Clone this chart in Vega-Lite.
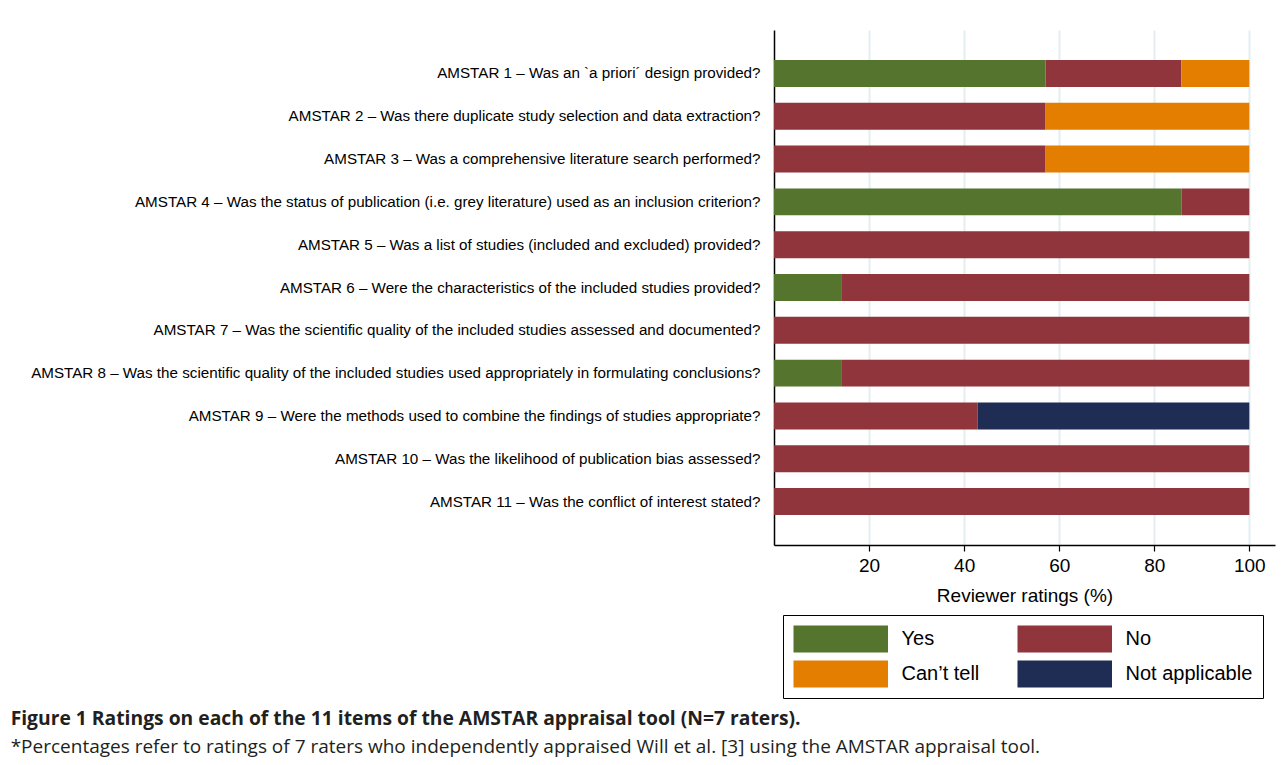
{
  "$schema": "https://vega.github.io/schema/vega-lite/v6.json",
  "width": 501,
  "height": 515,
  "padding": {"left": 10, "top": 30, "right": 8, "bottom": 5},
  "background": "white",
  "config": {
    "view": {"stroke": null},
    "font": "Liberation Sans",
    "axis": {"labelFont": "Liberation Sans", "titleFont": "Liberation Sans"},
    "legend": {"labelFont": "Liberation Sans"}
  },
  "title": {
    "text": "Figure 1 Ratings on each of the 11 items of the AMSTAR appraisal tool (N=7 raters).",
    "subtitle": "*Percentages refer to ratings of 7 raters who independently appraised Will et al. [3] using the AMSTAR appraisal tool.",
    "orient": "bottom",
    "anchor": "start",
    "frame": "bounds",
    "font": "Open Sans",
    "fontSize": 19.3,
    "fontWeight": "bold",
    "color": "#231f20",
    "subtitleFont": "Open Sans",
    "subtitleFontSize": 19,
    "subtitleColor": "#231f20",
    "subtitlePadding": 9,
    "offset": 11,
    "dx": -20
  },
  "data": {
    "values": [
      {"item": "AMSTAR 1 – Was an `a priori´ design provided?", "idx": 1, "rating": "Yes", "ord": 1, "pct": 57.14},
      {"item": "AMSTAR 1 – Was an `a priori´ design provided?", "idx": 1, "rating": "No", "ord": 2, "pct": 28.57},
      {"item": "AMSTAR 1 – Was an `a priori´ design provided?", "idx": 1, "rating": "Can’t tell", "ord": 3, "pct": 14.29},
      {"item": "AMSTAR 2 – Was there duplicate study selection and data extraction?", "idx": 2, "rating": "No", "ord": 2, "pct": 57.14},
      {"item": "AMSTAR 2 – Was there duplicate study selection and data extraction?", "idx": 2, "rating": "Can’t tell", "ord": 3, "pct": 42.86},
      {"item": "AMSTAR 3 – Was a comprehensive literature search performed?", "idx": 3, "rating": "No", "ord": 2, "pct": 57.14},
      {"item": "AMSTAR 3 – Was a comprehensive literature search performed?", "idx": 3, "rating": "Can’t tell", "ord": 3, "pct": 42.86},
      {"item": "AMSTAR 4 – Was the status of publication (i.e. grey literature) used as an inclusion criterion?", "idx": 4, "rating": "Yes", "ord": 1, "pct": 85.71},
      {"item": "AMSTAR 4 – Was the status of publication (i.e. grey literature) used as an inclusion criterion?", "idx": 4, "rating": "No", "ord": 2, "pct": 14.29},
      {"item": "AMSTAR 5 – Was a list of studies (included and excluded) provided?", "idx": 5, "rating": "No", "ord": 2, "pct": 100},
      {"item": "AMSTAR 6 – Were the characteristics of the included studies provided?", "idx": 6, "rating": "Yes", "ord": 1, "pct": 14.29},
      {"item": "AMSTAR 6 – Were the characteristics of the included studies provided?", "idx": 6, "rating": "No", "ord": 2, "pct": 85.71},
      {"item": "AMSTAR 7 – Was the scientific quality of the included studies assessed and documented?", "idx": 7, "rating": "No", "ord": 2, "pct": 100},
      {"item": "AMSTAR 8 – Was the scientific quality of the included studies used appropriately in formulating conclusions?", "idx": 8, "rating": "Yes", "ord": 1, "pct": 14.29},
      {"item": "AMSTAR 8 – Was the scientific quality of the included studies used appropriately in formulating conclusions?", "idx": 8, "rating": "No", "ord": 2, "pct": 85.71},
      {"item": "AMSTAR 9 – Were the methods used to combine the findings of studies appropriate?", "idx": 9, "rating": "No", "ord": 2, "pct": 42.86},
      {"item": "AMSTAR 9 – Were the methods used to combine the findings of studies appropriate?", "idx": 9, "rating": "Not applicable", "ord": 4, "pct": 57.14},
      {"item": "AMSTAR 10 – Was the likelihood of publication bias assessed?", "idx": 10, "rating": "No", "ord": 2, "pct": 100},
      {"item": "AMSTAR 11 – Was the conflict of interest stated?", "idx": 11, "rating": "No", "ord": 2, "pct": 100}
    ]
  },
  "mark": {"type": "bar"},
  "encoding": {
    "y": {
      "field": "item",
      "type": "nominal",
      "sort": {"field": "idx", "op": "min", "order": "ascending"},
      "scale": {"paddingInner": 0.37, "paddingOuter": 0.7},
      "axis": {
        "title": null,
        "ticks": false,
        "labelPadding": 14,
        "labelFontSize": 15.2,
        "labelColor": "#000",
        "labelLimit": 1000,
        "domainColor": "#000",
        "domainWidth": 1.5,
        "grid": false
      }
    },
    "x": {
      "field": "pct",
      "type": "quantitative",
      "stack": "zero",
      "scale": {"domain": [0, 105.4], "nice": false, "zero": true},
      "axis": {
        "title": "Reviewer ratings (%)",
        "titleFontSize": 19,
        "titleFontWeight": "normal",
        "titleColor": "#000",
        "titlePadding": 11,
        "values": [20, 40, 60, 80, 100],
        "labelFontSize": 19,
        "labelColor": "#000",
        "labelPadding": 5,
        "tickColor": "#000",
        "tickSize": 6,
        "tickWidth": 1.2,
        "domainColor": "#000",
        "domainWidth": 1.5,
        "grid": true,
        "gridColor": "#e4eef1",
        "gridWidth": 2
      }
    },
    "color": {
      "field": "rating",
      "type": "nominal",
      "scale": {
        "domain": ["Yes", "No", "Can’t tell", "Not applicable"],
        "range": ["#55752f", "#90353b", "#e37e00", "#1f2d54"]
      },
      "legend": {
        "title": null,
        "orient": "none",
        "legendX": 9,
        "legendY": 585,
        "direction": "horizontal",
        "columns": 2,
        "columnPadding": 38,
        "rowPadding": 8,
        "padding": 10.5,
        "strokeColor": "#000",
        "symbolType": "M-1,-1H6V1H-1Z",
        "symbolSize": 729,
        "symbolStrokeWidth": 0,
        "symbolOpacity": 1,
        "labelFontSize": 20,
        "labelColor": "#000",
        "labelOffset": 81,
        "labelLimit": 300
      }
    },
    "order": {"field": "ord", "type": "quantitative"}
  }
}
